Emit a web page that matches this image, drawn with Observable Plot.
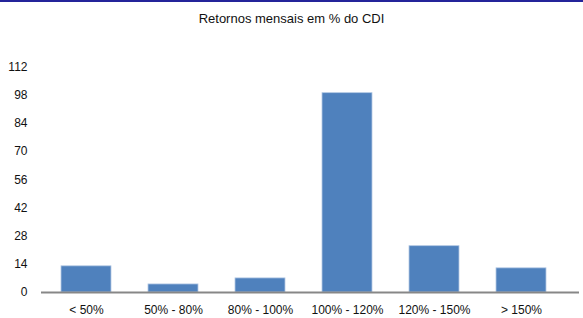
<!DOCTYPE html>
<html>
<head>
<meta charset="utf-8">
<script src="https://cdn.jsdelivr.net/npm/d3@7"></script>
<script src="https://cdn.jsdelivr.net/npm/@observablehq/plot@0.6"></script>
<style>
  html, body { margin: 0; padding: 0; background: #fff; }
  #wrap { position: relative; width: 583px; height: 318px; overflow: hidden; border-top: 2px solid #24249a; box-sizing: border-box; }
  #title { position: absolute; top: 9px; left: 0; width: 583px; text-align: center;
           font-family: "Liberation Sans", Arial, sans-serif; font-size: 13px; color: #111; }
  #chart { position: absolute; top: 28px; left: 0; }
</style>
</head>
<body>
<div id="wrap">
  <div id="title">Retornos mensais em % do CDI</div>
  <div id="chart"></div>
</div>
<script>
const categories = ["< 50%", "50% - 80%", "80% - 100%", "100% - 120%", "120% - 150%", "> 150%"];
const values = [13, 4, 7, 99, 23, 12];
const yTicks = [0, 14, 28, 42, 56, 70, 84, 98, 112];

const data = categories.map((c, i) => ({category: c, value: values[i]}));

const H = 288;
const top0 = 28;
const plot = Plot.plot({
  width: 583,
  height: H,
  marginLeft: 41,
  marginRight: 4,
  marginTop: 66.5 - top0 - 2,
  marginBottom: H - (292 - top0 - 2),
  style: {fontFamily: "'Liberation Sans', Arial, sans-serif", fontSize: "12px", color: "#111", background: "#fff"},
  x: {domain: categories, range: [41, 566], paddingInner: 0.428, paddingOuter: 0.217, label: null, tickSize: 0, tickPadding: 13},
  y: {domain: [0, 112], ticks: yTicks, label: null, tickSize: 0, tickPadding: 14},
  marks: [
    Plot.barY(data, {x: "category", y: "value", fill: "#4F81BD", stroke: "#B3C8E4", strokeWidth: 0.8}),
    Plot.ruleY([0], {stroke: "#878787", strokeWidth: 2})
  ]
});
document.getElementById("chart").appendChild(plot);
</script>
</body>
</html>
